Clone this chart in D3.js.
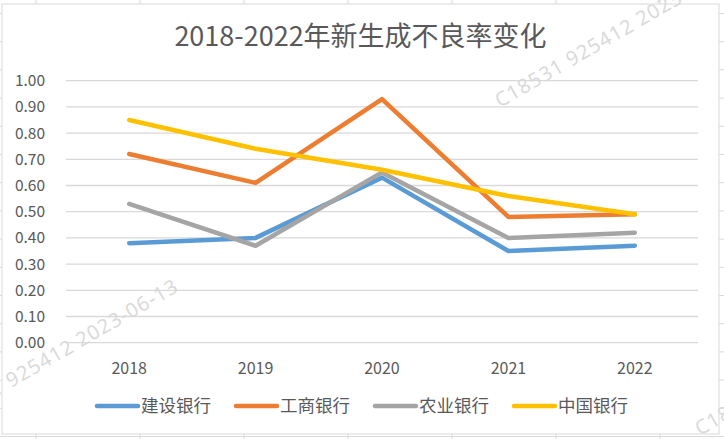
<!DOCTYPE html>
<html>
<head>
  <meta charset="utf-8">
  <title>新生成不良率</title>
  <style>
    body {margin:0; background:#fff;}
    svg.chart text {font-family: "Noto Sans CJK SC", "Noto Sans", sans-serif; fill:#595959;}
    svg.chart .grid line {stroke:#d9d9d9; stroke-width:1.3;}
    svg.chart .sheet line {stroke:#dadada; stroke-width:1;}
    svg.chart path.series {fill:none; stroke-width:4.5; stroke-linejoin:round; stroke-linecap:round;}
    svg.chart text.wm {fill:#dadada; font-family:"Noto Sans", sans-serif; font-size:20px; letter-spacing:1px;}
  </style>
</head>
<body>
<script src="https://cdn.jsdelivr.net/npm/d3@7/dist/d3.min.js"></script>
<script>
  // data
  var years = ['2018', '2019', '2020', '2021', '2022'];
  var banks = ['建设银行', '工商银行', '农业银行', '中国银行'];
  var ccb   = [0.38, 0.40, 0.63, 0.35, 0.37];
  var icbc  = [0.72, 0.61, 0.93, 0.48, 0.49];
  var abc   = [0.53, 0.37, 0.65, 0.40, 0.42];
  var boc   = [0.85, 0.74, 0.66, 0.56, 0.49];
  var yTicks = [0, 0.1, 0.2, 0.3, 0.4, 0.5, 0.6, 0.7, 0.8, 0.9, 1.0];
  var colors = ['#5b9bd5', '#ed7d31', '#a5a5a5', '#ffc000'];
  var title = '2018-2022年新生成不良率变化';
  var watermark = 'C18531 925412 2023-06-13';

  var width = 724,
      height = 439,
      plot_left = 66,
      plot_right = 698,
      plot_top = 80.7,
      plot_bottom = 342.7;

  var series = [ccb, icbc, abc, boc];

  var svg = d3.select('body')
    .append('svg')
    .attr('class', 'chart')
    .attr('width', width)
    .attr('height', height);

  // spreadsheet cells behind the chart box
  var sheet = svg.append('g').attr('class', 'sheet');
  sheet.selectAll('line.v')
    .data(d3.range(36, width, 104))
    .enter().append('line')
    .attr('class', 'v')
    .attr('x1', function(d){ return d }).attr('x2', function(d){ return d })
    .attr('y1', 0).attr('y2', height);
  sheet.selectAll('line.h')
    .data(d3.range(13.5, height, 28.2))
    .enter().append('line')
    .attr('class', 'h')
    .attr('x1', 0).attr('x2', width)
    .attr('y1', function(d){ return d }).attr('y2', function(d){ return d });

  // chart area
  svg.append('rect')
    .attr('x', 2)
    .attr('y', 4)
    .attr('width', 717)
    .attr('height', 430)
    .style('fill', '#fff')
    .style('stroke', '#d9d9d9')
    .style('stroke-width', 1);

  svg.append('text')
    .text(title)
    .attr('x', 360.5)
    .attr('y', 46)
    .style('text-anchor', 'middle')
    .style('font-size', '27px');

  var x = d3.scaleBand()
    .domain(years)
    .range([plot_left, plot_right]);

  var y = d3.scaleLinear()
    .domain([0, 1])
    .range([plot_bottom, plot_top]);

  svg.append('g')
    .attr('class', 'grid')
    .selectAll('line')
    .data(yTicks)
    .enter().append('line')
    .attr('x1', plot_left)
    .attr('x2', plot_right)
    .attr('y1', function(d){ return y(d) })
    .attr('y2', function(d){ return y(d) });

  // y axis labels
  var yAxis = svg.append('g')
    .attr('transform', 'translate(' + (plot_left - 5) + ',0)')
    .call(d3.axisLeft(y).tickValues(yTicks).tickFormat(d3.format('.2f')).tickSize(0).tickPadding(16));
  yAxis.select('.domain').remove();
  yAxis.selectAll('text').style('font-size', '15.5px').attr('fill', null);

  // x axis labels
  var xAxis = svg.append('g')
    .attr('transform', 'translate(0,' + plot_bottom + ')')
    .call(d3.axisBottom(x).tickSize(0).tickPadding(20));
  xAxis.select('.domain').remove();
  xAxis.selectAll('text').style('font-size', '16px').attr('fill', null);

  var line = d3.line()
    .x(function(d, i){ return x(years[i]) + x.bandwidth() / 2 })
    .y(function(d){ return y(d) });

  svg.append('g')
    .selectAll('path')
    .data(series)
    .enter().append('path')
    .attr('class', 'series')
    .attr('d', line)
    .style('stroke', function(d, i){ return colors[i] });

  // legend
  var legend = svg.append('g')
    .attr('transform', 'translate(97,406)');

  var item = legend.selectAll('g')
    .data(banks)
    .enter().append('g')
    .attr('transform', function(d, i){ return 'translate(' + (i * 139) + ',0)' });

  item.append('line')
    .attr('x1', 0).attr('x2', 41)
    .attr('y1', 0).attr('y2', 0)
    .style('stroke', function(d, i){ return colors[i] })
    .style('stroke-width', 4.5)
    .style('stroke-linecap', 'round');

  item.append('text')
    .text(function(d){ return d })
    .attr('x', 44)
    .attr('y', 0)
    .attr('dy', '0.36em')
    .style('font-size', '17.5px');

  // date stamp over everything
  svg.selectAll('text.wm')
    .data([[500, 108], [-60, 429], [700, 436]])
    .enter().append('text')
    .attr('class', 'wm')
    .text(watermark)
    .attr('transform', function(d){ return 'translate(' + d[0] + ',' + d[1] + ') rotate(-30)' });
</script>
</body>
</html>
